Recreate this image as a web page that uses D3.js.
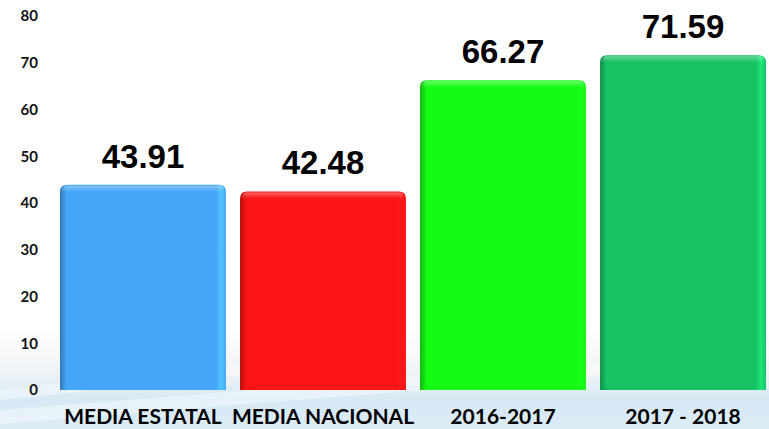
<!DOCTYPE html>
<meta charset="utf-8">
<style>
body { margin: 0; background: #fff; }
.tick-label { font-family: Lato, "Open Sans", sans-serif; font-weight: 700; font-size: 15px; fill: #111; }
.value-label { font-family: "Liberation Sans", Arial, sans-serif; font-weight: 700; font-size: 33px; fill: #000; }
.cat-label { font-family: Lato, "Open Sans", sans-serif; font-weight: 700; font-size: 21px; fill: #000; }
</style>
<body>
<script src="https://cdn.jsdelivr.net/npm/d3@7/dist/d3.min.js"></script>
<script>

var categories = ["MEDIA ESTATAL", "MEDIA NACIONAL", "2016-2017", "2017 - 2018"],
    values = [43.91, 42.48, 66.27, 71.59],
    valueLabels = ["43.91", "42.48", "66.27", "71.59"],
    yTicks = [0, 10, 20, 30, 40, 50, 60, 70, 80],
    barColors = ["#45a6f9", "#fb1414", "#16fb16", "#17c264"];

var width = 769,
    height = 429;

var x = d3.scaleBand()
    .domain(categories)
    .range([52.8, 773.2])
    .paddingInner(0.078)
    .paddingOuter(0.04);

var y = d3.scaleLinear()
    .domain([0, 80])
    .range([390, 16]);

var svg = d3.select("body").append("svg")
    .attr("width", width)
    .attr("height", height);

var defs = svg.append("defs");

// soft blue backdrop at the bottom
var bg = defs.append("linearGradient")
    .attr("id", "bg")
    .attr("x1", 0).attr("y1", 0).attr("x2", 0).attr("y2", 1);
bg.append("stop").attr("offset", "0%").attr("stop-color", "#ffffff");
bg.append("stop").attr("offset", "45%").attr("stop-color", "#eef2f5");
bg.append("stop").attr("offset", "70%").attr("stop-color", "#d6e9f5");
bg.append("stop").attr("offset", "100%").attr("stop-color", "#dcecf6");

svg.append("rect")
    .attr("x", 0).attr("y", 330)
    .attr("width", width).attr("height", height - 330)
    .attr("fill", "url(#bg)");

// faint diagonal streaks
var streaks = [[0, 410, 769, 350, 769, 362, 0, 424], [0, 390, 560, 330, 580, 340, 0, 400]];
svg.selectAll(".streak")
    .data(streaks)
    .enter().append("polygon")
    .attr("class", "streak")
    .attr("points", function(d) { return [[d[0], d[1]], [d[2], d[3]], [d[4], d[5]], [d[6], d[7]]].join(" "); })
    .attr("fill", "#ffffff")
    .attr("opacity", 0.4);

// per-bar gradients: darker left edge, lighter right edge
barColors.forEach(function(c, i) {
  var g = defs.append("linearGradient")
      .attr("id", "bar" + i)
      .attr("x1", 0).attr("y1", 0).attr("x2", 1).attr("y2", 0);
  var dark = d3.color(c).darker(0.9), light = d3.color(c).brighter(0.5);
  g.append("stop").attr("offset", "0%").attr("stop-color", dark);
  g.append("stop").attr("offset", "4%").attr("stop-color", c);
  g.append("stop").attr("offset", "94%").attr("stop-color", c);
  g.append("stop").attr("offset", "97%").attr("stop-color", light);
  g.append("stop").attr("offset", "100%").attr("stop-color", c);
});

var shine = defs.append("linearGradient")
    .attr("id", "topShine")
    .attr("x1", 0).attr("y1", 0).attr("x2", 0).attr("y2", 1);
shine.append("stop").attr("offset", "0%").attr("stop-color", "#fff").attr("stop-opacity", 0.35);
shine.append("stop").attr("offset", "100%").attr("stop-color", "#fff").attr("stop-opacity", 0);

function barPath(x0, y0, w, h, r) {
  return "M" + x0 + "," + (y0 + h) +
    "V" + (y0 + r) +
    "Q" + x0 + "," + y0 + " " + (x0 + r) + "," + y0 +
    "H" + (x0 + w - r) +
    "Q" + (x0 + w) + "," + y0 + " " + (x0 + w) + "," + (y0 + r) +
    "V" + (y0 + h) + "Z";
}

var bars = svg.selectAll(".bar")
    .data(values)
    .enter().append("g")
    .attr("class", "bar");

bars.append("path")
    .attr("d", function(d, i) { return barPath(x(categories[i]), y(d), x.bandwidth(), y(0) - y(d), 7); })
    .attr("fill", function(d, i) { return "url(#bar" + i + ")"; });

bars.append("path")
    .attr("d", function(d, i) { return barPath(x(categories[i]) + 2, y(d) + 1, x.bandwidth() - 4, 6, 5); })
    .attr("fill", "url(#topShine)");

bars.append("text")
    .attr("class", "value-label")
    .attr("x", function(d, i) { return x(categories[i]) + x.bandwidth() / 2; })
    .attr("y", function(d) { return y(d) - 17; })
    .attr("text-anchor", "middle")
    .text(function(d, i) { return valueLabels[i]; });

// y-axis labels
svg.selectAll(".tick-label")
    .data(yTicks)
    .enter().append("text")
    .attr("class", "tick-label")
    .attr("x", 38)
    .attr("y", function(d) { return y(d); })
    .attr("dy", "0.35em")
    .attr("text-anchor", "end")
    .text(function(d) { return d; });

// category labels
svg.selectAll(".cat-label")
    .data(categories)
    .enter().append("text")
    .attr("class", "cat-label")
    .attr("x", function(d) { return x(d) + x.bandwidth() / 2; })
    .attr("y", 424)
    .attr("text-anchor", "middle")
    .text(function(d) { return d; });

</script>
